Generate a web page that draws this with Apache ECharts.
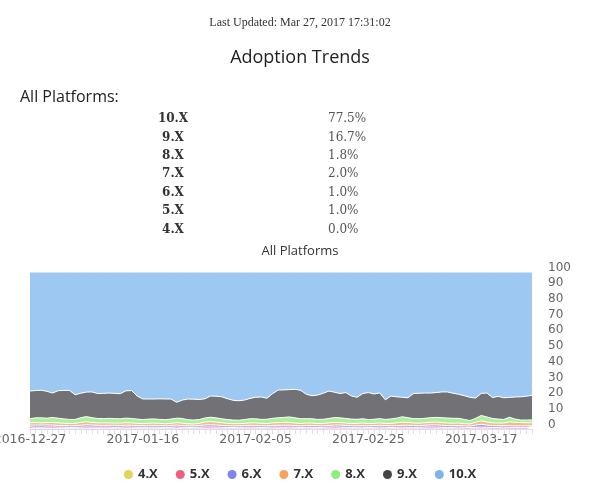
<!DOCTYPE html>
<html>
<head>
<meta charset="utf-8">
<script src="https://cdn.jsdelivr.net/npm/echarts@6/dist/echarts.min.js"></script>
<style>
html,body{margin:0;padding:0;background:#fff;}
#c{width:600px;height:486px;}
</style>
</head>
<body>
<div id="c"></div>
<script>
const lastUpdated = 'Last Updated: Mar 27, 2017 17:31:02';
const pageTitle = 'Adoption Trends';
const sectionTitle = 'All Platforms:';
const chartTitle = 'All Platforms';
const tableLabels = ['10.X','9.X','8.X','7.X','6.X','5.X','4.X'];
const tableValues = ['77.5%','16.7%','1.8%','2.0%','1.0%','1.0%','0.0%'];

const dates = [
'2016-12-27','2016-12-28','2016-12-29','2016-12-30','2016-12-31',
'2017-01-01','2017-01-02','2017-01-03','2017-01-04','2017-01-05','2017-01-06','2017-01-07','2017-01-08','2017-01-09','2017-01-10',
'2017-01-11','2017-01-12','2017-01-13','2017-01-14','2017-01-15','2017-01-16','2017-01-17','2017-01-18','2017-01-19','2017-01-20',
'2017-01-21','2017-01-22','2017-01-23','2017-01-24','2017-01-25','2017-01-26','2017-01-27','2017-01-28','2017-01-29','2017-01-30','2017-01-31',
'2017-02-01','2017-02-02','2017-02-03','2017-02-04','2017-02-05','2017-02-06','2017-02-07','2017-02-08','2017-02-09','2017-02-10',
'2017-02-11','2017-02-12','2017-02-13','2017-02-14','2017-02-15','2017-02-16','2017-02-17','2017-02-18','2017-02-19','2017-02-20',
'2017-02-21','2017-02-22','2017-02-23','2017-02-24','2017-02-25','2017-02-26','2017-02-27','2017-02-28',
'2017-03-01','2017-03-02','2017-03-03','2017-03-04','2017-03-05','2017-03-06','2017-03-07','2017-03-08','2017-03-09','2017-03-10',
'2017-03-11','2017-03-12','2017-03-13','2017-03-14','2017-03-15','2017-03-16','2017-03-17','2017-03-18','2017-03-19','2017-03-20',
'2017-03-21','2017-03-22','2017-03-23','2017-03-24','2017-03-25','2017-03-26'
];

const yTicks = [0,10,20,30,40,50,60,70,80,90,100];

const v4X = [0.3,0.3,0.2,0.3,0.2,0.2,0.3,0.2,0.2,0.2,
0.2,0.2,0.3,0.2,0.2,0.2,0.1,0.2,0.2,0.2,
0.2,0.1,0.1,0.2,0.1,0.1,0.2,0.1,0.1,0.1,
0.1,0.2,0.1,0.1,0.1,0.1,0.1,0.1,0.1,0.1,
0.1,0.1,0.1,0.1,0.2,0.1,0.1,0.1,0.1,0.1,
0.1,0.1,0.1,0.1,0.1,0.1,0.1,0.1,0.1,0.1,
0.1,0.1,0.1,0.1,0.1,0.1,0.1,0.1,0.1,0.1,
0.1,0.1,0.1,0.1,0.1,0.1,0.1,0.0,0.0,0.1,
0.1,0.1,0.0,0.0,0.1,0.0,0.0,0.0,0.0,0.0];

const v5X = [1.0,0.9,0.9,1.0,1.1,1.0,0.9,0.8,0.9,1.0,
1.1,1.0,0.9,1.0,1.0,0.9,1.0,1.1,1.0,0.9,
0.9,1.0,1.0,0.9,0.9,1.0,1.1,1.0,0.9,0.9,
1.0,1.1,1.2,1.1,1.0,0.9,0.9,1.0,1.0,1.1,
1.0,0.9,1.0,1.1,1.0,1.0,1.1,1.0,0.9,1.0,
1.0,0.9,1.0,1.1,1.2,1.1,1.0,0.9,1.0,1.0,
0.9,1.0,1.1,1.0,0.9,1.0,1.1,1.0,0.9,1.0,
1.1,1.2,1.1,1.0,0.9,1.0,1.1,1.0,0.9,1.0,
1.1,1.0,0.9,1.0,1.1,1.0,1.0,1.0,1.0,1.0];

const v6X = [1.2,1.3,1.4,1.3,1.2,1.1,1.0,1.1,1.0,1.2,
1.4,1.3,1.2,1.1,1.2,1.3,1.2,1.1,1.2,1.1,
1.0,1.1,1.2,1.1,1.0,1.1,1.2,1.1,1.0,1.0,
1.1,1.3,1.4,1.3,1.2,1.1,1.0,1.0,1.1,1.2,
1.2,1.1,1.0,1.1,1.2,1.3,1.2,1.1,1.0,1.1,
1.2,1.1,1.0,1.1,1.2,1.3,1.2,1.1,1.0,1.1,
1.0,1.1,1.2,1.1,1.0,1.1,1.2,1.3,1.2,1.1,
1.2,1.3,1.4,1.3,1.2,1.1,1.0,1.1,1.0,1.4,
1.8,1.4,1.2,1.1,1.0,1.1,1.0,1.0,1.0,1.0];

const v7X = [1.5,1.6,1.4,1.5,1.7,1.6,1.5,1.4,1.5,1.8,
1.9,1.7,1.5,1.6,1.5,1.4,1.5,1.6,1.5,1.4,
1.3,1.4,1.5,1.4,1.3,1.4,1.6,1.5,1.3,1.2,
1.4,1.8,2.0,1.9,1.7,1.5,1.4,1.3,1.4,1.5,
1.6,1.5,1.4,1.6,1.7,1.8,1.7,1.6,1.5,1.6,
1.5,1.4,1.5,1.6,1.7,1.6,1.5,1.4,1.5,1.6,
1.5,1.4,1.5,1.3,1.6,1.7,1.9,1.8,1.6,1.5,
1.6,1.7,1.8,1.7,1.6,1.5,1.6,1.4,1.3,1.8,
2.2,2.0,1.8,1.7,1.6,2.4,2.3,2.1,2.0,2.0];

const v8X = [2.6,3.0,3.2,2.8,3.1,3.0,2.7,2.6,2.5,3.0,
3.3,3.0,2.8,2.7,2.9,2.8,2.7,2.9,2.8,2.7,
2.6,2.7,2.6,2.5,2.6,2.7,2.8,3.0,2.6,2.5,
2.4,2.6,2.8,2.7,2.5,2.4,2.3,2.2,2.4,2.6,
2.6,2.5,2.7,2.9,3.0,3.2,3.6,3.3,3.0,2.8,
2.7,2.6,2.6,2.8,3.1,3.0,2.9,2.8,2.6,2.7,
2.5,2.6,2.7,2.6,2.8,3.0,3.5,3.0,2.8,2.9,
2.8,2.9,3.0,3.1,3.2,3.1,3.0,2.6,2.2,2.5,
3.4,3.2,2.8,2.5,2.3,3.0,2.0,1.6,1.7,1.8];

const v9X = [17.6,17.4,17.6,17.1,15.6,17.5,18.2,18.5,15.7,15.6,
15.6,16.4,15.9,16.1,16.1,16.1,16.0,17.4,17.8,14.7,
13.1,12.8,12.7,13.1,13.2,12.8,10.1,11.7,13.2,13.3,
12.8,12.2,13.5,13.8,14.0,13.3,12.6,12.4,12.4,13.0,
13.7,14.3,13.4,15.7,17.7,17.5,17.4,18.2,18.1,15.5,
14.7,15.5,16.6,17.5,16.1,15.5,16.5,14.7,14.0,16.1,
17.2,16.1,16.4,12.5,14.6,13.6,12.4,12.7,16.0,16.2,
16.1,15.7,15.8,16.4,16.6,16.0,15.3,15.1,14.8,12.9,
14.1,15.2,13.3,14.5,13.8,12.6,14.1,14.8,15.2,15.6];

const v10X = [75.8,75.5,75.3,76.0,77.1,75.6,75.4,75.4,78.2,77.2,
76.5,76.4,77.4,77.3,77.1,77.3,77.5,75.7,75.5,79.0,
80.9,80.9,80.9,80.8,80.9,80.9,83.0,81.6,80.9,81.0,
81.2,80.8,79.0,79.1,79.5,80.7,81.7,82.0,81.6,80.5,
79.8,79.6,80.4,77.5,75.2,75.1,74.9,74.7,75.4,77.9,
78.8,78.4,77.2,75.8,76.6,77.4,76.8,79.0,79.8,77.4,
76.8,77.7,77.0,81.4,79.0,79.5,79.8,80.1,77.4,77.2,
77.1,77.1,76.8,76.4,76.4,77.2,77.9,78.8,79.8,80.3,
77.3,77.1,80.0,79.2,80.1,79.9,79.6,79.5,79.1,78.6];

const seriesNames = ['4.X','5.X','6.X','7.X','8.X','9.X','10.X'];
const seriesData = [v4X, v5X, v6X, v7X, v8X, v9X, v10X];
const seriesColors = ['#e4d354','#f15c80','#8085e9','#f7a35c','#90ed7d','#434348','#7cb5ec'];

const chart = echarts.init(document.getElementById('c'), null, {renderer:'canvas'});

const graphics = [
  {type:'text', left:'center', top:17, style:{text:lastUpdated, font:'12px "Liberation Serif", serif', fill:'#333'}},
  {type:'text', left:'center', top:49, style:{text:pageTitle, font:'18px "Open Sans", sans-serif', fill:'#222'}},
  {type:'text', left:20, top:89, style:{text:sectionTitle, font:'16px "Open Sans", sans-serif', fill:'#222'}}
];
tableLabels.forEach(function(l, i){
  graphics.push({type:'text', x:173, y:119 + i*18.4, style:{text:l, font:'bold 12px "DejaVu Serif", serif', fill:'#333', textAlign:'center', textVerticalAlign:'middle'}});
  graphics.push({type:'text', x:328, y:119 + i*18.4, style:{text:tableValues[i], font:'12px "DejaVu Serif", serif', fill:'#555', textAlign:'left', textVerticalAlign:'middle'}});
});

chart.setOption({
  animation:false,
  color: seriesColors,
  title:{text:chartTitle, left:'center', top:240, textStyle:{fontFamily:'"Open Sans", sans-serif', fontSize:13, fontWeight:'normal', color:'#333'}},
  graphic: graphics,
  legend:{
    data: seriesNames, left:'center', top:463, icon:'circle', itemWidth:9, itemHeight:9, itemGap:18,
    textStyle:{fontFamily:'"Open Sans", sans-serif', fontSize:13, fontWeight:'bold', color:'#333'}
  },
  grid:{left:30, right:68, top:272, bottom:57, containLabel:false, outerBoundsMode:'none'},
  xAxis:{
    type:'category', data:dates, boundaryGap:false,
    axisLine:{show:true, lineStyle:{color:'#ccd6eb'}},
    axisTick:{show:true, interval:0, length:5, lineStyle:{color:'#e6dbe6'}},
    axisLabel:{interval:19, margin:4, fontFamily:'"DejaVu Sans", sans-serif', fontSize:12.5, color:'#666', showMinLabel:true, hideOverlap:false},
    splitLine:{show:false}
  },
  yAxis:{
    type:'value', position:'right', min:yTicks[0], max:yTicks[yTicks.length-1], interval:10,
    axisLine:{show:false}, axisTick:{show:false}, splitLine:{show:false},
    axisLabel:{margin:16, fontFamily:'"DejaVu Sans", sans-serif', fontSize:12, color:'#666', verticalAlign:'bottom', lineHeight:9}
  },
  series: seriesNames.map(function(n, i){
    return {
      name:n, type:'line', stack:'total', data:seriesData[i], symbol:'none', smooth:false,
      lineStyle:{color:'#ffffff', width:1},
      areaStyle:{color:seriesColors[i], opacity:0.75},
      itemStyle:{color:seriesColors[i]}
    };
  })
});
</script>
</body>
</html>
